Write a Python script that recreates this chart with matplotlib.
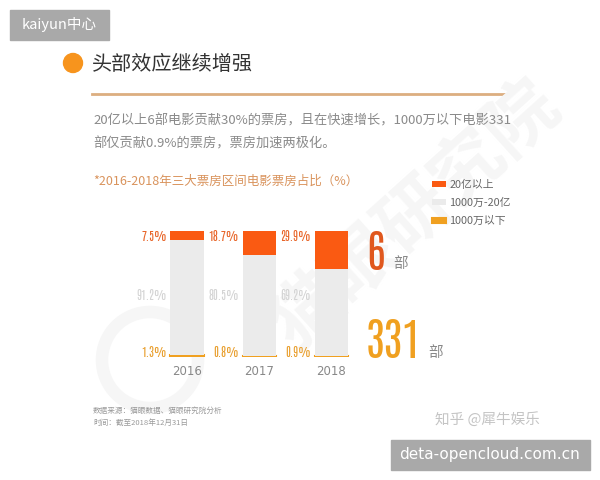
import matplotlib
matplotlib.use('Agg')
import matplotlib.pyplot as plt
from matplotlib.patches import Rectangle, Circle
import numpy as np

plt.rcParams['font.family'] = ['Noto Sans CJK SC', 'DejaVu Sans']

years = ['2016', '2017', '2018']
top_share = [7.5, 18.7, 29.9]      # 20亿以上
mid_share = [91.2, 80.5, 69.2]     # 1000万-20亿
low_share = [1.3, 0.8, 0.9]        # 1000万以下
series_names = ['20亿以上', '1000万-20亿', '1000万以下']
big_count = '6'
small_count = '331'

C_TOP = '#fa5a12'
C_MID = '#ebebeb'
C_LOW = '#f0a020'
NARROW = ['Antonio', 'DejaVu Sans']

W, H = 600, 480
fig = plt.figure(figsize=(6, 4.8), dpi=100)
fig.patch.set_facecolor('white')

# full-figure layer in pixel units for decorations and free text
bg = fig.add_axes([0, 0, 1, 1], zorder=-1)
bg.set_xlim(0, W)
bg.set_ylim(H, 0)
bg.axis('off')

top = fig.add_axes([0, 0, 1, 1], zorder=5)
top.set_xlim(0, W)
top.set_ylim(H, 0)
top.axis('off')
top.patch.set_alpha(0)

# faint watermark
bg.text(415, 215, '猫眼研究院', fontsize=52, color='#f6f6f6', rotation=42,
        ha='center', va='center', fontweight='bold')
bg.add_patch(Circle((150, 360), 48, fill=False, ec='#f6f6f6', lw=9))

# header
bg.add_patch(Circle((73, 63), 9.5, color='#f7941d'))
bg.text(92, 64, '头部效应继续增强', fontsize=14.5, color='#333333', va='center')
bg.plot([92, 508], [94, 94], color='#dcae80', lw=2)

bg.text(93, 121, '20亿以上6部电影贡献30%的票房，且在快速增长，1000万以下电影331',
        fontsize=9.5, color='#8a8a8a', va='center')
bg.text(93, 144, '部仅贡献0.9%的票房，票房加速两极化。',
        fontsize=9.5, color='#8a8a8a', va='center')
bg.text(93, 181, '*2016-2018年三大票房区间电影票房占比（%）',
        fontsize=9, color='#d9935c', va='center')

# bars
ax = fig.add_axes([150 / W, 1 - 357 / H, 210 / W, 126 / H])
x = np.arange(len(years))
bw = 0.46
b_low = ax.bar(x, low_share, bw, color=C_LOW, edgecolor=C_LOW, lw=1.5,
               label=series_names[2])
b_mid = ax.bar(x, mid_share, bw, bottom=low_share, color=C_MID,
               label=series_names[1])
b_top = ax.bar(x, top_share, bw, bottom=np.add(low_share, mid_share),
               color=C_TOP, label=series_names[0])
ax.set_xlim(-0.514, 2.4)
ax.set_ylim(0, 100)
for s in ax.spines.values():
    s.set_visible(False)
ax.set_yticks([])
ax.set_xticks(x)
ax.set_xticklabels(years, fontsize=8.5, color='#888888', family=['DejaVu Sans'])
ax.tick_params(axis='x', length=0, pad=6)
ax.patch.set_alpha(0)

for i in range(len(years)):
    lx = x[i] - bw / 2 - 0.05
    ax.text(lx, 96, f'{top_share[i]}%', ha='right', va='center', fontsize=8.5,
            color='#e8662a', family=NARROW, clip_on=False)
    ax.text(lx, 49, f'{mid_share[i]}%', ha='right', va='center', fontsize=8.5,
            color='#d4d4d4', family=NARROW, clip_on=False)
    ax.text(lx, 4, f'{low_share[i]}%', ha='right', va='center', fontsize=8.5,
            color='#e9a030', family=NARROW, clip_on=False)

# legend
fig.legend(handles=[b_top, b_mid, b_low], labels=series_names,
           loc='upper left', bbox_to_anchor=(422 / W, 1 - 170 / H),
           frameon=False, fontsize=7.8, handlelength=1.3,
           handleheight=0.45, handletextpad=0.3, labelspacing=0.75,
           labelcolor='#666666')

# big counts
bg.text(366, 270, big_count, fontsize=32, color='#e0581e',
        family=NARROW, va='baseline')
bg.text(393, 268, '部', fontsize=10.5, color='#888888', va='baseline')
bg.text(366, 358, small_count, fontsize=32, color='#f0a020',
        family=NARROW, va='baseline')
bg.text(428, 357, '部', fontsize=10.5, color='#888888', va='baseline')

# footnotes
bg.text(93, 411, '数据来源：猫眼数据、猫眼研究院分析', fontsize=5.5,
        color='#9a9a9a', va='center')
bg.text(93, 423, '时间：截至2018年12月31日', fontsize=5.5,
        color='#9a9a9a', va='center')
bg.text(435, 419, '知乎 @犀牛娱乐', fontsize=10.5, color='#c4c4c4', va='center')

# overlay boxes
top.add_patch(Rectangle((10, 10), 99, 30, color='#a9a9a9'))
top.text(59, 25, 'kaiyun中心', fontsize=10.5, color='white', ha='center',
         va='center')
top.add_patch(Rectangle((391, 440), 199, 30, color='#a9a9a9'))
top.text(490, 455, 'deta-opencloud.com.cn', fontsize=11, color='white',
         ha='center', va='center', family=['DejaVu Sans'])

fig.savefig('out.png', dpi=100, facecolor='white')
